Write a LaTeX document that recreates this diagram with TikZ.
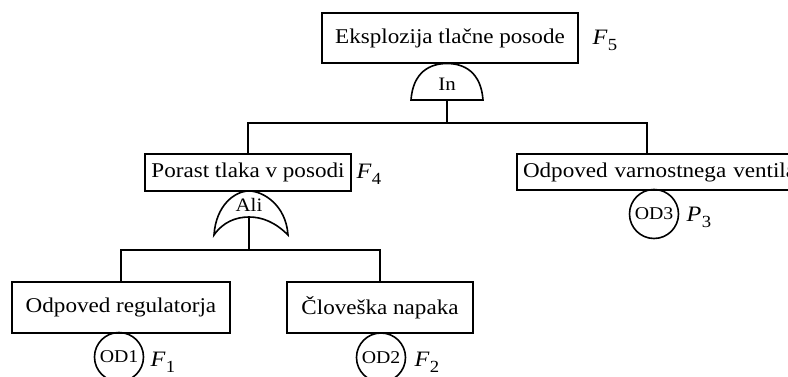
\documentclass[tikz,border=0pt]{standalone}
\usepackage{fontspec}
\setmainfont[FakeStretch=1.1]{Liberation Serif}
\newcommand{\lbl}[2]{{\itshape #1}\kern0.5pt\raisebox{-6pt}{\fontsize{17}{17}\selectfont #2}}
\begin{document}
\begin{tikzpicture}[x=1pt,y=-1pt,
  line width=1.6pt,
  evbox/.style={draw,rectangle,inner sep=0pt,font=\fontsize{21}{24}\selectfont},
  basic/.style={draw,circle,inner sep=0pt,minimum size=49pt,font=\fontsize{18}{20}\selectfont},
  gatetext/.style={inner sep=0pt,font=\fontsize{19}{21}\selectfont},
  lab/.style={inner sep=0pt,font=\fontsize{22}{24}\selectfont}]
\useasboundingbox (0,0) rectangle (788,377);
\clip (0,0) rectangle (788,377);
\fill[white] (0,0) rectangle (788,377);
% events
\node[evbox,minimum width=256pt,minimum height=50pt] (top) at (450,38) {Eksplozija tlačne posode};
\node[lab] (f5) at (605,40) {\lbl{F}{5}};
\node[evbox,minimum width=206pt,minimum height=37pt] (porast) at (248,172.5) {Porast tlaka v posodi};
\node[lab] (f4) at (369,174) {\lbl{F}{4}};
\node[evbox,minimum width=305pt,minimum height=36pt,text width=293pt,align=left] (ventil) at (669.5,172) {Odpoved varnostnega ventila};
\node[evbox,minimum width=218pt,minimum height=51pt] (reg) at (121,307.5) {Odpoved regulatorja};
\node[evbox,minimum width=186pt,minimum height=51pt] (clov) at (380,307.5) {Človeška napaka};
% basic events
\node[basic] (od1) at (119,357) {OD1};
\node[lab] (f1) at (163,362) {\lbl{F}{1}};
\node[basic] (od2) at (381,357.5) {OD2};
\node[lab] (f2) at (427,362) {\lbl{F}{2}};
\node[basic] (od3) at (654,214) {OD3};
\node[lab] (p3) at (699,217) {\lbl{P}{3}};
% AND gate
\coordinate (andg) at (447,100);
\draw (411,100) .. controls (413,72) and (430,63.5) .. (447,63.5)
  .. controls (464,63.5) and (481,72) .. (483,100) -- cycle;
\node[gatetext] (andtxt) at (447,84) {In};
% OR gate
\coordinate (org) at (249,217);
\draw (214,235) .. controls (216,205) and (235,191) .. (249,191)
  .. controls (263,191) and (286,205) .. (288,235)
  .. controls (275,222) and (262,217) .. (249,217)
  .. controls (236,217) and (223,222) .. (214,235) -- cycle;
\node[gatetext] (ortxt) at (249,205) {Ali};
% connectors
\coordinate (bus1) at (447,123);
\coordinate (vtop) at (647,154);
\coordinate (bus2) at (249,250);
\draw (andg) -- (bus1);
\draw (porast.north) |- (bus1) -| (vtop);
\draw (org) -- (bus2);
\draw (reg.north) |- (bus2) -| (clov.north);
\end{tikzpicture}
\end{document}
